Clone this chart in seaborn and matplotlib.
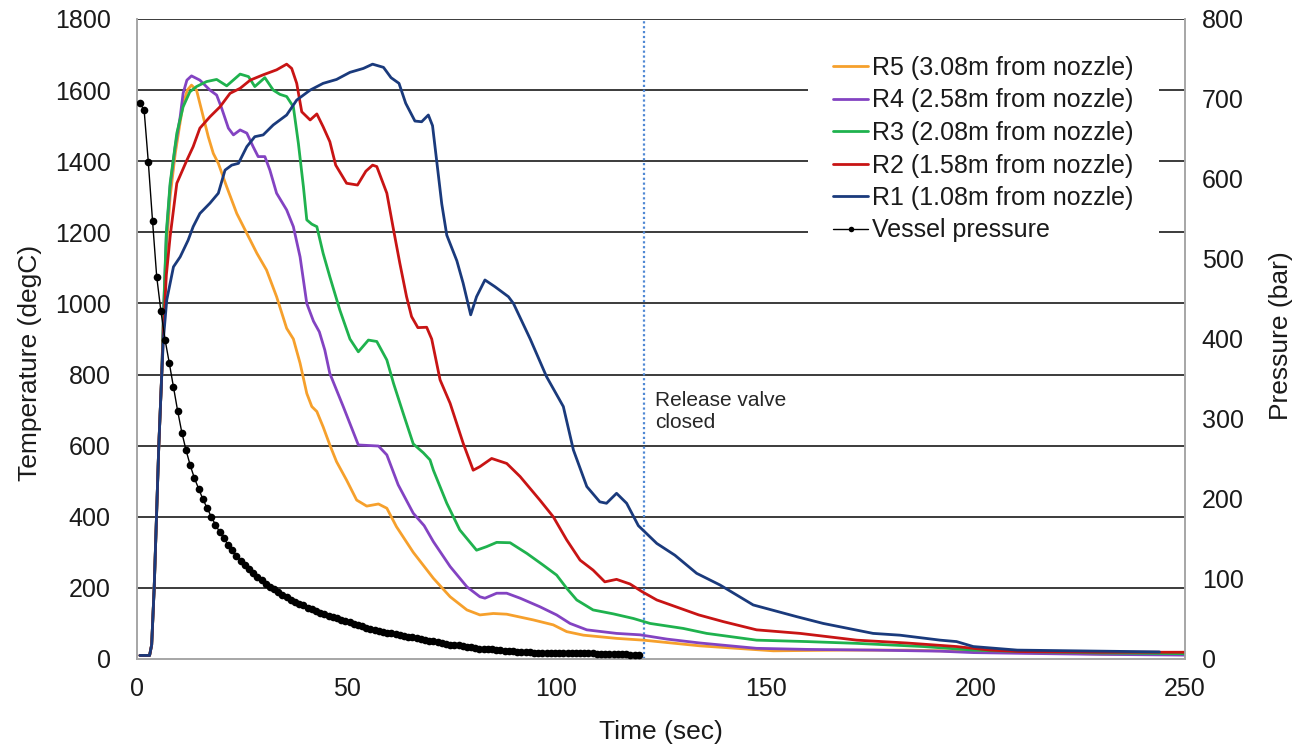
import numpy as np
import pandas as pd
import matplotlib
matplotlib.use("Agg")
import matplotlib.pyplot as plt
import seaborn as sns
from matplotlib.lines import Line2D

sns.set_theme(style="white")
plt.rcParams['font.family'] = ['Liberation Sans', 'DejaVu Sans']

# ---------------- data ----------------
r5_t = [0.7, 3.0, 3.5, 4.1, 4.65, 5.2, 5.9, 6.3, 7.0, 7.9, 9.1, 10.3, 11.0, 12.0, 13.0, 14.2, 15.4, 17.0, 18.2, 19.4,
        21.4, 23.8, 26.2, 28.6, 30.9, 33.3, 35.7, 37.3, 38.9, 40.5, 41.7, 42.9, 44.4, 46.0, 47.6, 50.0, 52.4, 54.8,
        57.6, 59.6, 61.9, 65.9, 70.7, 74.7, 78.7, 81.8, 85.0, 88.2, 94.5, 99.3, 102.5, 106.5, 114.4, 120.8, 134.3,
        151.8, 167.7, 183.6, 199.5, 210.6, 230.0, 250.0]
r5_T = [10, 10, 40, 200, 400, 600, 800, 950, 1150, 1300, 1420, 1510, 1560, 1600, 1614, 1600, 1544, 1469, 1422, 1394,
        1328, 1253, 1197, 1141, 1094, 1019, 930, 900, 832, 747, 710, 696, 653, 602, 555, 503, 447, 430,
        436, 424, 372, 300, 227, 175, 138, 124, 128, 126, 110, 96, 77, 67, 58, 53, 37,
        23, 25, 25, 21, 18, 14, 12]

r4_t = [0.7, 3.0, 3.5, 4.1, 4.65, 5.2, 5.9, 6.3, 7.0, 7.9, 9.1, 10.3, 11.0, 11.9, 13.0, 15.0, 17.4, 19.0, 20.2, 21.8,
        23.0, 24.6, 26.2, 27.7, 28.9, 30.5, 31.7, 33.3, 35.7, 37.3, 38.9, 40.5, 42.1, 43.5, 44.8, 46.0, 49.2, 52.8,
        57.6, 59.6, 62.3, 65.9, 68.5, 70.7, 74.7, 78.7, 81.8, 83.0, 85.8, 88.2, 91.4, 96.1, 100.1, 103.3, 107.3,
        114.4, 120.0, 126.4, 134.3, 147.8, 159.8, 175.6, 191.6, 199.5, 210.6, 230.0, 250.0]
r4_T = [10, 10, 40, 200, 400, 600, 800, 960, 1190, 1330, 1440, 1525, 1591, 1628, 1640, 1628, 1600, 1586, 1549, 1493,
        1474, 1488, 1479, 1441, 1413, 1413, 1375, 1310, 1263, 1216, 1131, 1000, 950, 920, 869, 803, 710, 602,
        599, 574, 490, 410, 375, 330, 260, 203, 175, 171, 185, 185, 171, 147, 124, 100, 82,
        72, 68, 56, 45, 30, 27, 25, 22, 18, 16, 13, 11]

r3_t = [0.7, 3.0, 3.5, 4.1, 4.65, 5.2, 5.9, 6.3, 7.0, 7.9, 9.5, 11.0, 12.6, 14.2, 16.6, 19.0, 21.4, 24.6, 26.6, 28.1,
        30.5, 32.5, 34.1, 35.7, 37.3, 38.5, 39.7, 40.5, 41.7, 42.9, 44.4, 46.0, 48.4, 50.8, 52.8, 55.2, 57.2, 59.6,
        61.2, 63.5, 65.9, 68.3, 69.9, 70.7, 73.9, 77.0, 81.0, 83.4, 85.8, 89.0, 93.0, 96.9, 100.1, 102.5, 104.9,
        108.8, 113.6, 118.4, 122.4, 130.3, 135.9, 147.8, 159.8, 171.7, 187.6, 199.5, 210.6, 230.0, 250.0]
r3_T = [10, 10, 40, 200, 400, 600, 800, 965, 1200, 1338, 1479, 1553, 1595, 1610, 1624, 1630, 1612, 1645, 1638, 1610,
        1635, 1600, 1588, 1582, 1553, 1450, 1328, 1235, 1223, 1216, 1141, 1075, 981, 900, 864, 897, 893, 841,
        775, 691, 605, 580, 560, 531, 438, 363, 306, 316, 328, 327, 297, 264, 236, 199, 166,
        138, 127, 114, 100, 86, 72, 53, 49, 44, 35, 25, 21, 17, 15]

r2_t = [0.7, 3.0, 3.5, 4.1, 4.65, 5.2, 5.9, 6.3, 7.0, 7.9, 9.5, 11.9, 13.4, 15.0, 17.4, 19.8, 22.2, 24.6, 27.0, 30.1,
        33.3, 35.7, 36.9, 38.1, 39.3, 41.3, 42.9, 44.4, 46.0, 47.4, 50.0, 52.6, 54.6, 56.2, 57.2, 59.6, 61.2, 62.7,
        64.3, 65.5, 67.0, 69.1, 70.3, 72.3, 74.7, 77.8, 80.2, 81.8, 84.6, 88.2, 91.4, 96.1, 99.3, 102.5, 105.7,
        108.8, 111.6, 114.4, 117.6, 120.4, 124.0, 134.0, 139.9, 147.8, 158.2, 171.7, 183.6, 195.5, 203.5, 210.6,
        230.0, 250.0]
r2_T = [10, 10, 40, 200, 400, 600, 800, 920, 1080, 1188, 1338, 1403, 1441, 1493, 1525, 1553, 1591, 1605, 1628, 1643,
        1657, 1673, 1661, 1619, 1539, 1516, 1533, 1497, 1455, 1389, 1338, 1333, 1372, 1389, 1385, 1310, 1207, 1113,
        1019, 963, 932, 933, 900, 785, 719, 607, 531, 541, 564, 550, 513, 447, 400, 335, 278,
        250, 217, 224, 211, 190, 166, 124, 105, 82, 72, 53, 45, 35, 25, 21,
        19, 19]

r1_t = [0.7, 3.0, 3.5, 4.1, 4.65, 5.2, 5.9, 6.3, 7.1, 8.7, 10.3, 12.2, 13.4, 15.0, 17.4, 19.4, 21.0, 22.6, 24.2, 26.2,
        28.1, 30.1, 32.5, 35.7, 38.1, 41.3, 44.4, 47.6, 50.8, 54.0, 56.2, 58.8, 60.6, 62.5, 64.1, 66.3, 67.9, 69.5,
        70.5, 71.5, 72.7, 73.9, 76.3, 77.8, 79.6, 81.0, 83.0, 85.4, 88.6, 89.8, 93.8, 97.7, 101.7, 104.1, 107.3,
        110.4, 112.0, 114.4, 116.8, 119.6, 124.0, 128.3, 133.5, 139.1, 147.0, 157.4, 163.7, 175.6, 182.0, 191.6,
        195.5, 199.5, 210.0, 243.9]
r1_T = [10, 10, 40, 200, 400, 600, 800, 900, 1010, 1103, 1131, 1178, 1216, 1253, 1282, 1310, 1375, 1389, 1394, 1441,
        1469, 1474, 1502, 1530, 1572, 1600, 1619, 1630, 1650, 1661, 1673, 1664, 1635, 1619, 1563, 1513, 1511, 1530,
        1500, 1400, 1280, 1192, 1120, 1057, 968, 1019, 1066, 1047, 1019, 1000, 900, 794, 710, 588, 485,
        442, 438, 466, 438, 375, 325, 292, 241, 208, 152, 119, 100, 72, 67, 53,
        49, 35, 25, 20]

p_t = np.arange(0.7, 120.0, 1.0)
p_bar = [695, 686, 621, 548, 478, 435, 399, 370, 340, 310,
         283, 261, 242, 226, 213, 200, 189, 178, 168, 159,
         151, 143, 136, 129, 123, 117, 112, 107, 103, 99,
         94, 90, 87, 84, 80, 77, 74, 71, 69, 67,
         64, 62, 60, 58, 56, 54, 53, 51, 49, 47,
         46, 44, 43, 41, 39, 38, 36, 35, 34, 33,
         32, 31, 30, 29, 28, 27, 26, 25, 24, 23,
         22, 21, 20, 19, 18, 18, 17, 16, 15, 15,
         14, 13, 13, 12, 12, 11, 11, 10, 10, 10,
         9, 9, 9, 9, 8, 8, 8, 8, 8, 8,
         8, 7, 7, 7, 7, 7, 7, 7, 7, 6,
         6, 6, 6, 6, 6, 6, 6, 5, 5, 5]

series = [
    ("R5 (3.08m from nozzle)", r5_t, r5_T, "#f6a02c"),
    ("R4 (2.58m from nozzle)", r4_t, r4_T, "#8343c2"),
    ("R3 (2.08m from nozzle)", r3_t, r3_T, "#1fb24e"),
    ("R2 (1.58m from nozzle)", r2_t, r2_T, "#c81414"),
    ("R1 (1.08m from nozzle)", r1_t, r1_T, "#1a3a7c"),
]
valve_t = 121.0
x_ticks = [0, 50, 100, 150, 200, 250]
t_ticks = list(range(0, 1801, 200))
p_ticks = list(range(0, 801, 100))

# ---------------- figure ----------------
W, H = 1311, 747
fig = plt.figure(figsize=(W / 100, H / 100), dpi=100)
L, R, T, B = 137, 1185, 19, 659
ax = fig.add_axes([L / W, 1 - B / H, (R - L) / W, (B - T) / H])
ax2 = ax.twinx()

grid_c = "#1a1a1a"
for y in t_ticks[1:]:
    ax.axhline(y, color=grid_c, lw=1.2, zorder=0.5)

handles = []
for name, tt, TT, c in series:
    df = pd.DataFrame({"t": tt, "T": TT})
    sns.lineplot(data=df, x="t", y="T", ax=ax, color=c, lw=2.0, sort=False,
                 estimator=None, legend=False, zorder=3)
    handles.append(Line2D([], [], color=c, lw=2.0, label=name))

dfp = pd.DataFrame({"t": p_t, "P": p_bar})
sns.lineplot(data=dfp, x="t", y="P", ax=ax2, color="black", lw=1.0, marker="o",
             markersize=5.5, markeredgewidth=0, sort=False, estimator=None, legend=False, zorder=4)
handles.append(Line2D([], [], color="black", lw=1.0, marker="o", markersize=4,
                      markeredgewidth=0, label="Vessel pressure"))

ax.axvline(valve_t, color="#4f88d4", lw=1.6, ls=(0, (1, 1.2)), zorder=2)
ax.text(123.6, 755, "Release valve\nclosed", fontsize=15, color="#262626",
        va="top", ha="left", linespacing=1.25)

ax.set_xlim(0, 250)
ax.set_ylim(0, 1800)
ax2.set_ylim(0, 800)
ax.set_xticks(x_ticks)
ax.set_yticks(t_ticks)
ax2.set_yticks(p_ticks)
ax.tick_params(axis="both", length=0, labelsize=18, colors="#1a1a1a")
ax.tick_params(axis="x", pad=13)
ax.tick_params(axis="y", pad=19)
ax2.tick_params(axis="y", length=0, labelsize=18, pad=12, colors="#1a1a1a")

ax.set_xlabel("Time (sec)", fontsize=19, color="#1a1a1a")
ax.set_ylabel("Temperature (degC)", fontsize=19, color="#1a1a1a")
ax2.set_ylabel("Pressure (bar)", fontsize=19, color="#1a1a1a")
ax.xaxis.set_label_coords(0.4995, -0.096)
ax.yaxis.set_label_coords(-0.091, 0.4625)
ax2.yaxis.set_label_coords(1.080, 0.505)

for a in (ax, ax2):
    a.spines["top"].set_visible(False)
    for s in ("left", "right", "bottom"):
        a.spines[s].set_color("#a6a6a6")
        a.spines[s].set_linewidth(1.2)
ax.grid(False)
ax2.grid(False)

leg = ax2.legend(handles=handles, loc="upper left",
                 bbox_to_anchor=((808 - L) / (R - L), (B - 31) / (B - T)),
                 fontsize=18, frameon=True, facecolor="white", edgecolor="none", framealpha=1,
                 handlelength=1.4, handletextpad=0.16, labelspacing=0.34, borderpad=1.0,
                 borderaxespad=0)
for txt in leg.get_texts():
    txt.set_color("#1a1a1a")

fig.savefig("out.png", dpi=100)
